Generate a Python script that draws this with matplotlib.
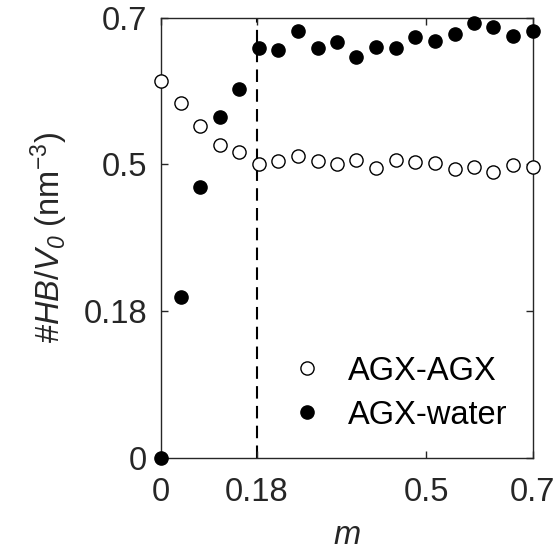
import numpy as np
import matplotlib
matplotlib.use('Agg')
import matplotlib.pyplot as plt

plt.rcParams['font.family'] = ['Liberation Sans', 'DejaVu Sans']
plt.rcParams['mathtext.fontset'] = 'custom'
plt.rcParams['mathtext.rm'] = 'Liberation Sans'
plt.rcParams['mathtext.it'] = 'Liberation Sans:italic'
plt.rcParams['mathtext.sf'] = 'Liberation Sans:italic'

# m values (20 points, evenly spaced 0..0.7)
m = [0.0, 0.037, 0.074, 0.111, 0.147, 0.184, 0.221, 0.258, 0.295, 0.332,
     0.368, 0.405, 0.442, 0.479, 0.516, 0.553, 0.589, 0.626, 0.663, 0.7]

# #HB/V0 (nm^-3)
hb_agx_agx = [0.614, 0.583, 0.552, 0.527, 0.517, 0.501, 0.504, 0.511, 0.505, 0.500,
              0.506, 0.491, 0.506, 0.503, 0.502, 0.489, 0.495, 0.484, 0.499, 0.494]
hb_agx_water = [0.0, 0.210, 0.451, 0.565, 0.602, 0.658, 0.656, 0.682, 0.659, 0.666,
                0.646, 0.660, 0.658, 0.674, 0.668, 0.677, 0.693, 0.687, 0.675, 0.681]

yticks = [0, 0.18, 0.5, 0.7]
xticks = [0, 0.18, 0.5, 0.7]
m_split = 0.18

# y axis is piecewise linear: each tick interval gets a third of the height
ypos = [0, 1 / 3, 2 / 3, 1]
fwd = lambda y: np.interp(y, yticks, ypos)
inv = lambda y: np.interp(y, ypos, yticks)

axcol = '#262626'
fs = 23.5
fig = plt.figure(figsize=(5.56, 5.54), dpi=100)
ax = fig.add_axes([0.2896, 0.1733, 0.6684, 0.7951])
ax.set_yscale('function', functions=(fwd, inv))

ax.axvline(m_split, color='k', lw=1.5, ls=(0, (6, 3.5)), zorder=1)
ax.plot(m, hb_agx_agx, 'o', ms=9.5, mfc='white', mec='k', mew=1.0,
        clip_on=False, zorder=3, label='AGX-AGX')
ax.plot(m, hb_agx_water, 'o', ms=9.5, mfc='k', mec='k', mew=1.0,
        clip_on=False, zorder=3, label='AGX-water')

ax.set_xlim(0, 0.7)
ax.set_ylim(0, 0.7)
ax.set_xticks(xticks)
ax.set_xticklabels(['0', '0.18', '0.5', '0.7'])
ax.set_yticks(yticks)
ax.set_yticklabels(['0', '0.18', '0.5', '0.7'])
ax.minorticks_off()

ax.tick_params(direction='in', length=5, width=1, colors=axcol, labelsize=fs,
               top=True, right=True)
ax.tick_params(axis='x', pad=14)
ax.tick_params(axis='y', pad=10)
for s in ax.spines.values():
    s.set_color(axcol)
    s.set_linewidth(1.0)

ax.set_xlabel('m', fontsize=fs, style='italic', color=axcol, labelpad=8)
ax.set_ylabel(r'#$\mathit{HB/V}_{\mathsf{0}}$ (nm$^{-3}$)', fontsize=fs,
              color=axcol, labelpad=10)

ax.legend(loc='lower left', bbox_to_anchor=(0.305, 0.032), frameon=False,
          fontsize=fs, handletextpad=0.65, labelspacing=0.4,
          borderaxespad=0, handlelength=1.2)

fig.savefig('out.png', dpi=100)
